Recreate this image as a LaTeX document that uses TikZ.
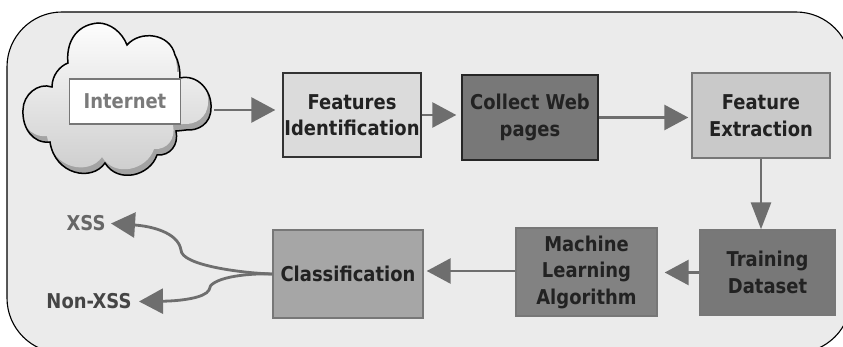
\documentclass[tikz,border=0pt]{standalone}
\usepackage{fontspec}
\setmainfont[FakeStretch=0.88]{DejaVu Sans}
\usetikzlibrary{arrows.meta}
\definecolor{frameb}{HTML}{EBEBEB}
\definecolor{lin}{HTML}{6E6E6E}
\definecolor{edgeg}{HTML}{777777}
\definecolor{txt}{HTML}{222222}
\tikzset{
 every node/.style={font=\bfseries\fontsize{20.4}{26.5}\selectfont, text=txt, align=center, inner sep=0pt},
 stepbox/.style={draw=edgeg, line width=1.4pt},
 conn/.style={draw=lin, line width=2.8pt, -{Triangle[length=24pt,width=25pt]}},
 connv/.style={draw=lin, line width=2.8pt, -{Triangle[length=27pt,width=20pt]}},
}
\def\cloudpath{(68,63) .. controls (66,45) and (74,25) .. (98,23)
 .. controls (110,23) and (122,32) .. (127,45)
 .. controls (140,30) and (170,33) .. (175,55) .. controls (179,62) and (180,70) .. (180,78)
 .. controls (197,74) and (212,90) .. (211,108)
 .. controls (211,124) and (198,131) .. (186,130)
 .. controls (178,131) and (176,131) .. (176,131)
 .. controls (179,145) and (170,156) .. (157,155)
 .. controls (150,176) and (118,184) .. (105,163)
 .. controls (92,182) and (55,175) .. (50,142)
 .. controls (33,144) and (22,128) .. (23,110)
 .. controls (23,95) and (38,82) .. (52,87)
 .. controls (52,75) and (60,66) .. (68,63) -- cycle}
\begin{document}
\begin{tikzpicture}[x=1pt,y=-1pt]
\useasboundingbox (0,0) rectangle (843,347);
% panel
\begin{scope}
\clip (0,0) rectangle (843,347);
\draw[fill=frameb, draw=black, line width=1.1pt, rounded corners=55pt] (7,12) rectangle (851,353);
\end{scope}
% cloud
\fill[black!36] \cloudpath;
\begin{scope}
\clip \cloudpath;
\begin{scope}[shift={(-3,-6)}]
\shade[top color=white, bottom color=black!20] \cloudpath;
\end{scope}
\end{scope}
\draw[black, line width=1.5pt] \cloudpath;
\node[draw=edgeg, line width=1.2pt, fill=white, minimum width=111pt, minimum height=45pt, text=black!52] (inet) at (125,101.5) {Internet};
\coordinate (inetR) at (214,110);
% boxes
\node[stepbox, draw=black!80, minimum width=138pt, minimum height=84pt, fill=black!14] (feat) at (352,115) {Features\\Identification};
\node[stepbox, draw=black!85, minimum width=136pt, minimum height=85pt, fill=black!53] (coll) at (530,117.5) {Collect Web\\pages};
\node[stepbox, minimum width=138pt, minimum height=85pt, fill=black!21] (fext) at (761,115.5) {Feature\\Extraction};
\node[stepbox, minimum width=135pt, minimum height=85pt, fill=black!53] (train) at (767.5,272.5) {Training\\Dataset};
\node[stepbox, minimum width=141pt, minimum height=88pt, fill=black!49] (mla) at (586.5,272) {Machine\\Learning\\Algorithm};
\node[stepbox, minimum width=150pt, minimum height=88pt, fill=black!35] (cls) at (348,274) {Classification};
\node[text=black!60] (xss) at (86,223) {XSS};
\node[text=black!73] (nxss) at (89,301) {Non-XSS};
\coordinate (xssR) at (111,223.5);
\coordinate (nxssR) at (139,301.5);
% connectors
\draw[conn, shorten >=7pt] (inetR) -- (feat.west |- inetR);
\draw[conn, shorten >=5pt] (feat.east |- 0,115) -- (coll.west |- 0,115);
\draw[conn, shorten >=3pt] (coll.east |- 0,117.5) -- (fext.west |- 0,117.5);
\draw[connv] (fext.south) -- (fext.south |- train.north);
\draw[conn, shorten >=7pt] (train.west) -- (mla.east |- train.west);
\draw[conn, shorten >=3pt] (mla.west |- 0,271) -- (cls.east |- 0,271);
\draw[conn] (cls.west) .. controls (240,273) and (181,265) .. (181,250) .. controls (178,232) and (150,226) .. (xssR);
\draw[conn] (cls.west) .. controls (245,273) and (209,278) .. (209,290) .. controls (205,298) and (180,301) .. (nxssR);
\end{tikzpicture}
\end{document}
